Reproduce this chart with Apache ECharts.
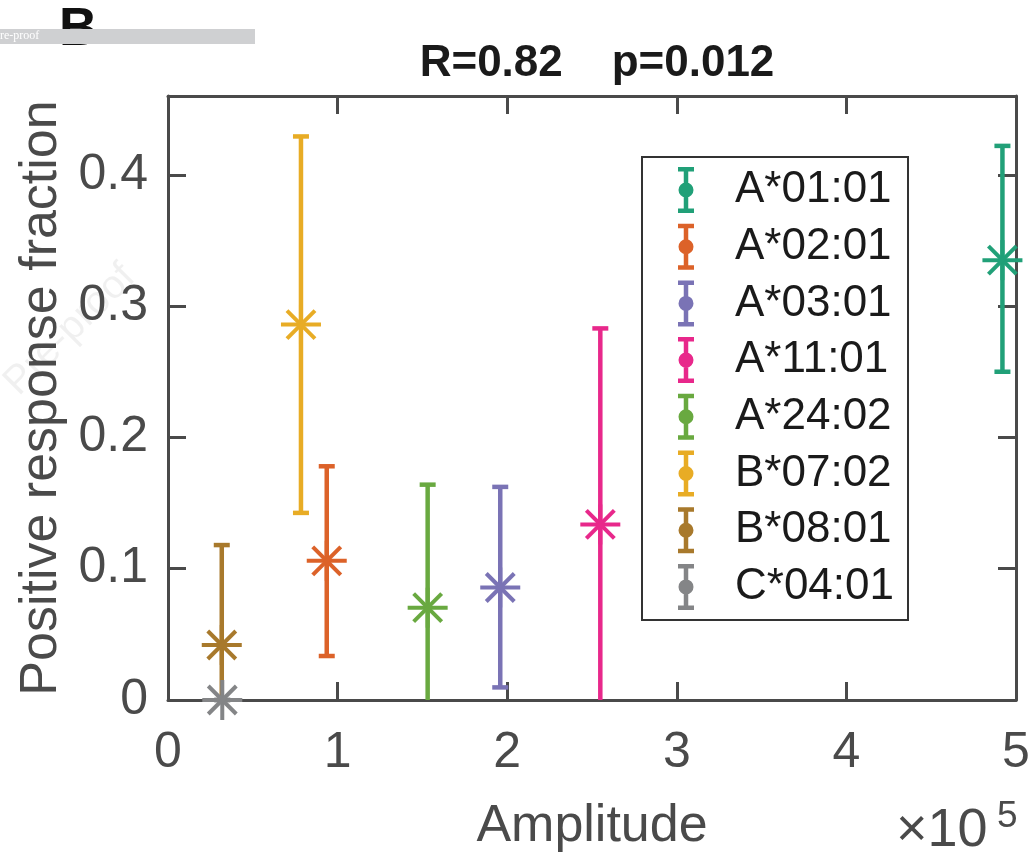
<!DOCTYPE html>
<html>
<head>
<meta charset="utf-8">
<script src="https://cdn.jsdelivr.net/npm/echarts@6/dist/echarts.min.js"></script>
<style>html,body{margin:0;padding:0;background:#fff;}#c{width:1035px;height:861px;}</style>
</head>
<body>
<div id="c"></div>
<script>
// ---- data ----
const alleles   = ['A*01:01','A*02:01','A*03:01','A*11:01','A*24:02','B*07:02','B*08:01','C*04:01'];
const amplitude = [492000, 93600, 195900, 254900, 153100, 78400, 31700, 32000];
const fraction  = [0.335, 0.106, 0.0857, 0.1337, 0.0703, 0.2859, 0.0419, 0.0];
const ciLow     = [0.250, 0.0335, 0.0096, -0.016, -0.024, 0.1425, -0.034, 0.0];
const ciHigh    = [0.422, 0.178, 0.1623, 0.283, 0.164, 0.4292, 0.118, 0.0];
const colors    = ['#21a078','#dc6229','#7a73b5','#e8288b','#69a940','#e8ac25','#a8792c','#848587'];
const xTicks    = [0, 100000, 200000, 300000, 400000, 500000];
const yTicks    = [0, 0.1, 0.2, 0.3, 0.4];
const titleText = 'R=0.82    p=0.012';

const FONT = 'Liberation Sans, Arial, Helvetica, sans-serif';
const AX = '#4a4a4a';

function renderItem(params, api) {
  const x = api.value(0), y = api.value(1), lo = api.value(2), hi = api.value(3);
  const c = api.coord([x, y]);
  const pLo = api.coord([x, lo]);
  const pHi = api.coord([x, hi]);
  const cs = params.coordSys;
  const top = cs.y, bottom = cs.y + cs.height;
  const color = api.visual('color');
  const st = { stroke: color, lineWidth: 4.5, lineCap: 'butt' };
  const children = [];
  const y1 = Math.max(pHi[1], top), y2 = Math.min(pLo[1], bottom);
  if (y2 > y1) children.push({ type: 'line', shape: { x1: c[0], y1: y1, x2: c[0], y2: y2 }, style: st });
  const capHalf = 8;
  [pHi[1], pLo[1]].forEach(function (py) {
    if (py >= top - 0.5 && py <= bottom + 0.5)
      children.push({ type: 'line', shape: { x1: c[0] - capHalf, y1: py, x2: c[0] + capHalf, y2: py }, style: st });
  });
  const r = 20, d = 14;
  const ast = { stroke: color, lineWidth: 4, lineCap: 'butt' };
  children.push({ type: 'line', shape: { x1: c[0] - r, y1: c[1], x2: c[0] + r, y2: c[1] }, style: ast });
  children.push({ type: 'line', shape: { x1: c[0], y1: c[1] - r, x2: c[0], y2: c[1] + r }, style: ast });
  children.push({ type: 'line', shape: { x1: c[0] - d, y1: c[1] - d, x2: c[0] + d, y2: c[1] + d }, style: ast });
  children.push({ type: 'line', shape: { x1: c[0] - d, y1: c[1] + d, x2: c[0] + d, y2: c[1] - d }, style: ast });
  return { type: 'group', children: children };
}

const series = alleles.map(function (name, i) {
  return {
    type: 'custom',
    name: name,
    xAxisIndex: 0, yAxisIndex: 0,
    itemStyle: { color: colors[i] },
    renderItem: renderItem,
    clip: false,
    z: 5,
    data: [[amplitude[i], fraction[i], ciLow[i], ciHigh[i]]]
  };
});

const legendIcon = 'path://M0,0H16V4.5H0Z M5.75,4.5H10.25V41.5H5.75Z M0,41.5H16V46H0Z M0.5,23A7.5,7.5,0,1,1,15.5,23A7.5,7.5,0,1,1,0.5,23Z';

const chart = echarts.init(document.getElementById('c'), null, { renderer: 'canvas' });
chart.setOption({
  backgroundColor: '#ffffff',
  animation: false,
  title: {
    text: titleText,
    left: 592, textAlign: 'center', top: 37,
    textStyle: { fontFamily: FONT, fontSize: 44, fontWeight: 'bold', color: '#1a1a1a' }
  },
  grid: { left: 168, right: 19, top: 96, bottom: 161, containLabel: false, outerBoundsMode: 'none' },
  legend: {
    orient: 'vertical',
    left: 642, top: 157,
    padding: [10, 14, 10, 36],
    itemWidth: 16, itemHeight: 46, itemGap: 10.7,
    icon: legendIcon,
    backgroundColor: '#ffffff',
    borderColor: '#333333', borderWidth: 2,
    textStyle: { fontFamily: FONT, fontSize: 44, color: '#1a1a1a', lineHeight: 46, padding: [0, 0, 0, 36] },
    data: alleles
  },
  xAxis: [{
    type: 'value', min: 0, max: 500000, interval: 100000,
    position: 'bottom',
    name: 'Amplitude', nameLocation: 'middle', nameGap: 101,
    nameTextStyle: { fontFamily: FONT, fontSize: 52, color: AX },
    axisLine: { show: true, onZero: false, lineStyle: { color: AX, width: 3 } },
    axisTick: { show: true, inside: true, length: 18, lineStyle: { color: AX, width: 3 }, customValues: xTicks },
    axisLabel: { show: true, margin: 28, fontFamily: FONT, fontSize: 50, color: AX,
      customValues: xTicks, formatter: function (v) { return String(Math.round(v / 100000)); } },
    splitLine: { show: false }
  }, {
    type: 'value', min: 0, max: 500000, interval: 100000,
    position: 'top',
    axisLine: { show: true, onZero: false, lineStyle: { color: AX, width: 3 } },
    axisTick: { show: true, inside: true, length: 18, lineStyle: { color: AX, width: 3 }, customValues: xTicks },
    axisLabel: { show: false },
    splitLine: { show: false }
  }],
  yAxis: [{
    type: 'value', min: 0, max: 0.46,
    position: 'left',
    name: 'Positive response fraction', nameLocation: 'middle', nameGap: 96,
    nameTextStyle: { fontFamily: FONT, fontSize: 52, color: AX },
    axisLine: { show: true, onZero: false, lineStyle: { color: AX, width: 3 } },
    axisTick: { show: true, inside: true, length: 18, lineStyle: { color: AX, width: 3 }, customValues: yTicks },
    axisLabel: { show: true, margin: 20, fontFamily: FONT, fontSize: 50, color: AX,
      customValues: yTicks, formatter: function (v) { return String(+v.toFixed(2)); } },
    splitLine: { show: false }
  }, {
    type: 'value', min: 0, max: 0.46,
    position: 'right',
    axisLine: { show: true, onZero: false, lineStyle: { color: AX, width: 3 } },
    axisTick: { show: true, inside: true, length: 18, lineStyle: { color: AX, width: 3 }, customValues: yTicks },
    axisLabel: { show: false },
    splitLine: { show: false }
  }],
  graphic: [
    { type: 'text', left: 59, top: 4, z: 1,
      style: { text: 'B', fontFamily: FONT, fontSize: 53, fontWeight: 'bold', fill: '#111111' } },
    { type: 'rect', shape: { x: 0, y: 29, width: 255, height: 15 }, z: 2,
      style: { fill: '#cfd0d2' } },
    { type: 'text', left: 0, top: 30, z: 3,
      style: { text: 're-proof', fontFamily: 'Liberation Serif, serif', fontSize: 12, fill: '#ffffff' } },
    { type: 'text', x: 70, y: 330, rotation: Math.PI / 4, z: 0,
      style: { text: 'Pre-proof', fontFamily: FONT, fontSize: 40, fill: 'rgba(0,0,0,0.06)', align: 'center', verticalAlign: 'middle' } },
    { type: 'text', x: 896, y: 858, z: 3,
      style: { text: '\u00d710', fontFamily: FONT, fontSize: 54, fill: AX, align: 'left', verticalAlign: 'bottom' } },
    { type: 'text', x: 997, y: 798, z: 3,
      style: { text: '5', fontFamily: FONT, fontSize: 37, fill: AX, align: 'left', verticalAlign: 'top' } }
  ],
  series: series
});
</script>
</body>
</html>
